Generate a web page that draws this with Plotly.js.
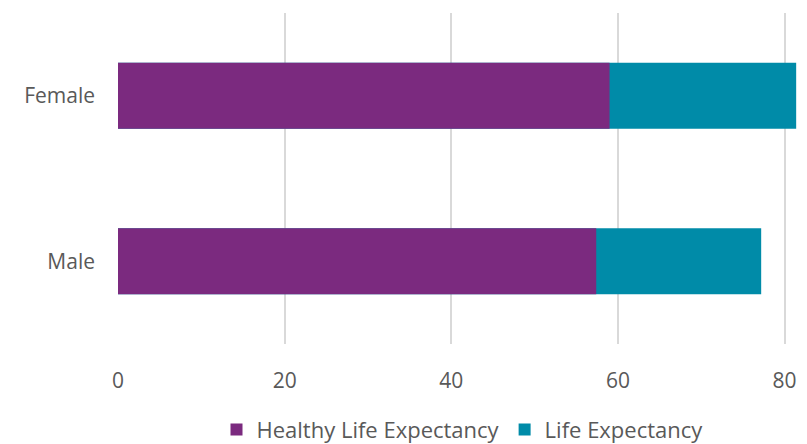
<!DOCTYPE html>
<html>
<head>
<meta charset="utf-8">
<script src="https://cdn.plot.ly/plotly-3.0.1.min.js"></script>
<style>html,body{margin:0;padding:0;background:#fff;}#chart{width:807px;height:444px;}</style>
</head>
<body>
<div id="chart"></div>
<script>
const categories = ["Female", "Male"];
const healthyLifeExpectancy = [59.0, 57.4];
const lifeExpectancy = [81.4, 77.2];
const xTicks = [0, 20, 40, 60, 80];

const font = {family: "Open Sans, sans-serif", size: 21, color: "#595959"};
const legendFont = {family: "Open Sans, sans-serif", size: 22, color: "#595959"};

const traces = [
  {
    type: "bar", orientation: "h", name: "Life Expectancy",
    y: categories, x: lifeExpectancy,
    marker: {color: "#008BA8"}, width: 0.4, hoverinfo: "skip"
  },
  {
    type: "bar", orientation: "h", name: "Healthy Life Expectancy",
    y: categories, x: healthyLifeExpectancy,
    marker: {color: "#7B2A7F"}, width: 0.4, hoverinfo: "skip"
  }
];

const layout = {
  width: 807, height: 444,
  margin: {l: 118, r: 0, t: 13, b: 100, autoexpand: false},
  paper_bgcolor: "#fff", plot_bgcolor: "#fff",
  barmode: "overlay",
  font: font,
  showlegend: true,
  legend: {orientation: "h", traceorder: "reversed", x: 0.5, xanchor: "center",
           xref: "paper", yref: "container",
           y: 0.032, yanchor: "middle", font: legendFont},
  xaxis: {
    range: [0, 82.7], tickvals: xTicks, ticktext: xTicks.map(String),
    showgrid: true, gridcolor: "#d9d9d9", gridwidth: 2,
    zeroline: false, showline: false, ticks: "", ticklabelstandoff: 22,
    tickfont: font, fixedrange: true, automargin: false
  },
  yaxis: {
    type: "category", categoryorder: "array", categoryarray: ["Male", "Female"],
    showgrid: false, zeroline: false, showline: false, ticks: "",
    ticklabelstandoff: 22, tickfont: font, fixedrange: true, automargin: false
  }
};

Plotly.newPlot("chart", traces, layout, {displayModeBar: false, staticPlot: true});
</script>
</body>
</html>
